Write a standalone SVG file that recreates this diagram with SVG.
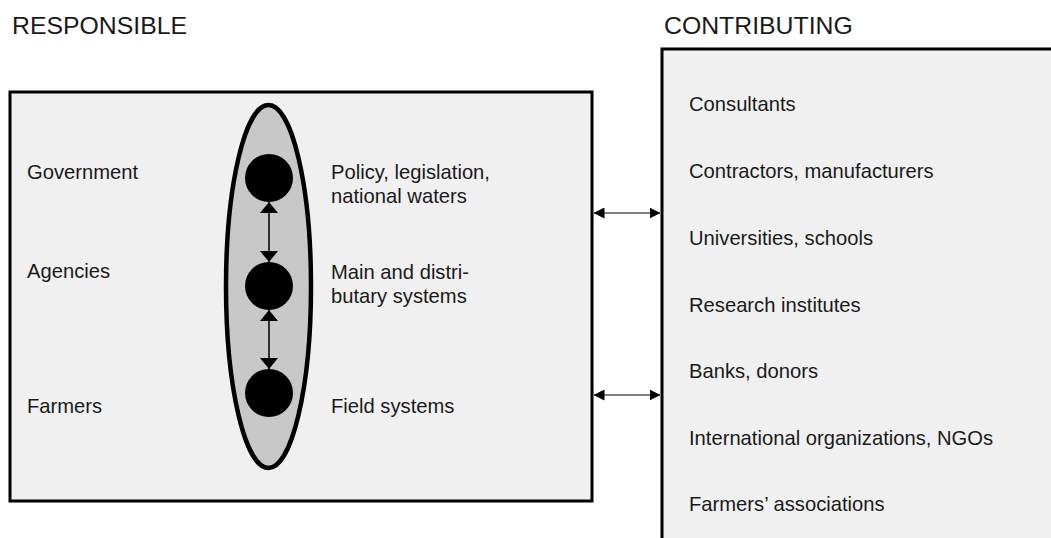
<svg xmlns="http://www.w3.org/2000/svg" width="1051" height="538" viewBox="0 0 1051 538">
  <style>
    .title { font-family: "Liberation Sans", Arial, sans-serif; font-size: 24.8px; fill: #1a1a1a; }
    .label { font-family: "Liberation Sans", Arial, sans-serif; font-size: 20.2px; fill: #1a1a1a; }
    .panel { fill: #f0f0f0; stroke: #000; stroke-width: 3; }
    .dot { fill: #000; }
    .link-v { stroke: #000; stroke-width: 1.5; fill: none; }
    .link-h { stroke: #808080; stroke-width: 2; fill: none; }
  </style>
  <defs>
    <marker id="headV" markerUnits="userSpaceOnUse" viewBox="0 0 11 18" refX="11" refY="9" markerWidth="11" markerHeight="18" orient="auto-start-reverse">
      <path d="M0,0 L11,9 L0,18 Z" fill="#000"/>
    </marker>
    <marker id="headH" markerUnits="userSpaceOnUse" viewBox="0 0 11 11" refX="11" refY="5.5" markerWidth="11" markerHeight="11" orient="auto-start-reverse">
      <path d="M0,0 L11,5.5 L0,11 Z" fill="#000"/>
    </marker>
  </defs>

  <rect width="1051" height="538" fill="#fff"/>

  <!-- Section headings -->
  <text class="title" x="12" y="34">RESPONSIBLE</text>
  <text class="title" x="664" y="34">CONTRIBUTING</text>

  <!-- Responsible parties -->
  <g id="responsible">
    <rect class="panel" x="10" y="92" width="582" height="409"/>
    <text class="label" x="27" y="179">Government</text>
    <text class="label" x="27" y="278">Agencies</text>
    <text class="label" x="27" y="413">Farmers</text>
  </g>

  <!-- Management levels -->
  <g id="levels">
    <ellipse cx="268.5" cy="286.5" rx="42.5" ry="181.5" fill="#c8c8c8" stroke="#000" stroke-width="4.5"/>
  </g>
  <g id="level-policy">
    <circle class="dot" cx="269" cy="178" r="24"/>
    <text class="label" x="331" y="179">Policy, legislation,</text>
    <text class="label" x="331" y="203">national waters</text>
  </g>
  <g id="level-main">
    <circle class="dot" cx="269" cy="286" r="24"/>
    <text class="label" x="331" y="279">Main and distri-</text>
    <text class="label" x="331" y="303">butary systems</text>
  </g>
  <g id="level-field">
    <circle class="dot" cx="269" cy="393" r="24"/>
    <text class="label" x="331" y="413">Field systems</text>
  </g>

  <!-- Contributing parties -->
  <g id="contributing">
    <rect class="panel" x="662" y="49" width="400" height="500"/>
    <text class="label" x="689" y="111">Consultants</text>
    <text class="label" x="689" y="178">Contractors, manufacturers</text>
    <text class="label" x="689" y="245">Universities, schools</text>
    <text class="label" x="689" y="312">Research institutes</text>
    <text class="label" x="689" y="378">Banks, donors</text>
    <text class="label" x="689" y="445">International organizations, NGOs</text>
    <text class="label" x="689" y="511">Farmers’ associations</text>
  </g>

  <!-- Connectors -->
  <g id="connectors">
    <line class="link-v" x1="269" y1="202" x2="269" y2="262" marker-start="url(#headV)" marker-end="url(#headV)"/>
    <line class="link-v" x1="269" y1="310" x2="269" y2="369" marker-start="url(#headV)" marker-end="url(#headV)"/>
    <line class="link-h" x1="593.5" y1="213" x2="660.5" y2="213" marker-start="url(#headH)" marker-end="url(#headH)"/>
    <line class="link-h" x1="593.5" y1="395" x2="660.5" y2="395" marker-start="url(#headH)" marker-end="url(#headH)"/>
  </g>
</svg>
